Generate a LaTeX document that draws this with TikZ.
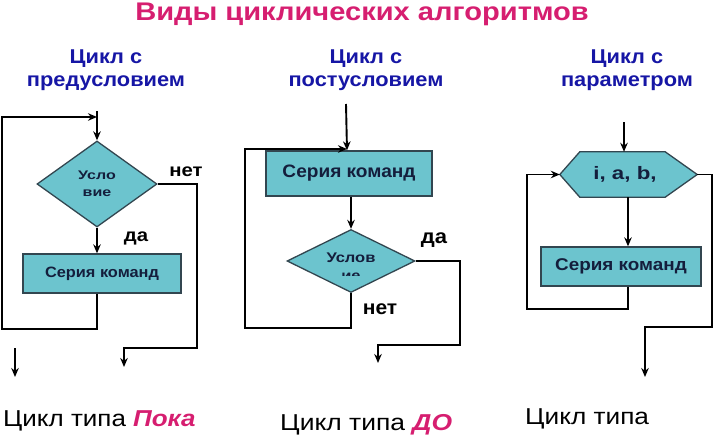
\documentclass[tikz,border=0pt]{standalone}
\usepackage{fontspec}
\setmainfont{Liberation Sans}
\usetikzlibrary{shapes.geometric,arrows.meta}
\definecolor{boxfill}{RGB}{108,196,206}
\definecolor{boxline}{RGB}{50,70,80}
\definecolor{titlepink}{RGB}{214,30,112}
\definecolor{subblue}{RGB}{22,22,165}
\definecolor{shapetext}{RGB}{20,30,60}
\newcommand{\hs}[2]{\scalebox{#1}[1]{#2}}
\tikzset{
  conn/.style={line width=1.9pt, draw=black},
  arr/.style={conn, -{Stealth[length=9pt,width=7.5pt]}},
  blockbox/.style={rectangle, draw=boxline, fill=boxfill, line width=1.3pt, inner sep=0pt, text=shapetext},
  dia/.style={diamond, draw=boxline, fill=boxfill, line width=1.3pt, inner sep=0pt, text=shapetext, align=center},
  lbl/.style={font=\bfseries\fontsize{18}{20}\selectfont, text=black, inner sep=0pt},
  sub/.style={font=\bfseries\fontsize{20}{23}\selectfont, text=subblue, align=center, inner sep=0pt},
  bot/.style={font=\fontsize{23}{26}\selectfont, anchor=west, inner sep=0pt},
}
\begin{document}
\begin{tikzpicture}[x=1pt,y=-1pt]
\useasboundingbox (0,0) rectangle (716,439);
% title
\node[font=\bfseries\fontsize{25.5}{28}\selectfont, text=titlepink, anchor=base, inner sep=0pt] (title) at (362,20.5) {\hs{1.14}{Виды циклических алгоритмов}};
% subtitles
\node[sub] (s1) at (106,70) {\hs{1.09}{Цикл с}\\\hs{1.09}{предусловием}};
\node[sub] (s2) at (366,70) {\hs{1.09}{Цикл с}\\\hs{1.09}{постусловием}};
\node[sub] (s3) at (627,70) {\hs{1.09}{Цикл с}\\\hs{1.09}{параметром}};

% ---------- left: pre-condition ----------
\node[dia, minimum width=120pt, minimum height=86pt, font=\bfseries\fontsize{12.5}{17}\selectfont] (d1) at (97,184) {\hs{1.28}{Усло}\\\hs{1.28}{вие}};
\node[blockbox, minimum width=158pt, minimum height=39pt, font=\bfseries\fontsize{15}{17}\selectfont] (b1) at (102,273.5) {\hs{1.09}{Серия команд}};
\coordinate (l1in) at (97,111);
\draw[arr] (l1in) -- (d1.north);
\draw[arr] (d1.south) -- (d1.south |- b1.north);
\node[lbl] (no1) at (186,172) {\hs{1.13}{нет}};
\node[lbl] (yes1) at (136,238) {\hs{1.13}{да}};
\coordinate (l1a) at (197,184);
\coordinate (l1b) at (197,348);
\coordinate (l1c) at (124,348);
\coordinate (l1d) at (124,367);
\draw[arr] (d1.east) -- (l1a) -- (l1b) -- (l1c) -- (l1d);
\coordinate (l1e) at (97,329);
\coordinate (l1f) at (2,329);
\coordinate (l1g) at (2,117);
\coordinate (l1h) at (97,117);
\draw[arr] (d1.south |- b1.south) -- (l1e) -- (l1f) -- (l1g) -- (l1h);
\coordinate (l1x) at (15,348);
\coordinate (l1y) at (15,377);
\draw[arr] (l1x) -- (l1y);

% ---------- middle: post-condition ----------
\node[blockbox, minimum width=166pt, minimum height=45pt, font=\bfseries\fontsize{18}{20}\selectfont] (b2) at (349,173.5) {\hs{1.06}{Серия команд}};
\node[dia, minimum width=128pt, minimum height=63pt, font=\bfseries\fontsize{14}{16}\selectfont] (d2) at (351,261) {};
\node[inner sep=0pt, text=shapetext, font=\bfseries\fontsize{14}{16}\selectfont, anchor=base] (d2t) at (351,262) {\hs{1.18}{Услов}};
\begin{scope}
  \clip (300,266) rectangle (400,275.5);
  \node[inner sep=0pt, text=shapetext, font=\bfseries\fontsize{14}{16}\selectfont, anchor=base] (d2u) at (351,280) {\hs{1.18}{ие}};
\end{scope}
\coordinate (m1in) at (346,104);
\draw[arr] (m1in) -- (b2.north -| 347,0);
\draw[arr] (b2.south -| d2.north) -- (d2.north);
\node[lbl, font=\bfseries\fontsize{20}{22}\selectfont] (yes2) at (434,240) {\hs{1.1}{да}};
\node[lbl, font=\bfseries\fontsize{20}{22}\selectfont] (no2) at (380,309) {\hs{1.05}{нет}};
\coordinate (m1a) at (460,261);
\coordinate (m1b) at (460,345);
\coordinate (m1c) at (378,345);
\coordinate (m1d) at (378,363);
\draw[arr] (d2.east) -- (m1a) -- (m1b) -- (m1c) -- (m1d);
\coordinate (m1e) at (351,328);
\coordinate (m1f) at (245,328);
\coordinate (m1g) at (245,149);
\coordinate (m1h) at (347,149);
\draw[arr] (d2.south) -- (m1e) -- (m1f) -- (m1g) -- (m1h);

% ---------- right: parameter ----------
\node[inner sep=0pt, minimum width=137pt, minimum height=45pt] (h) at (628.5,174.5) {};
\filldraw[fill=boxfill, draw=boxline, line width=1.3pt] (h.west) -- ([xshift=20pt]h.north west) -- ([xshift=-32pt]h.north east) -- (h.east) -- ([xshift=-32pt]h.south east) -- ([xshift=20pt]h.south west) -- cycle;
\node[inner sep=0pt, text=shapetext, font=\bfseries\fontsize{18}{20}\selectfont] (htext) at (625,174.5) {\hs{1.24}{i, a, b,}};
\node[blockbox, minimum width=160pt, minimum height=39pt, font=\bfseries\fontsize{17}{19}\selectfont] (b3) at (621,266.5) {\hs{1.11}{Серия команд}};
\coordinate (r1in) at (624,122);
\draw[arr] (r1in) -- (r1in |- h.north);
\draw[arr] (h.south -| 628,0) -- (628,0 |- b3.north);
\coordinate (r1a) at (628,309);
\coordinate (r1b) at (527,309);
\coordinate (r1c) at (527,174.5);
\draw[arr] (628,0 |- b3.south) -- (r1a) -- (r1b) -- (r1c) -- (h.west);
\coordinate (r1d) at (712,174.5);
\coordinate (r1e) at (712,327);
\coordinate (r1f) at (645,327);
\coordinate (r1g) at (645,377);
\draw[arr] (h.east) -- (r1d) -- (r1e) -- (r1f) -- (r1g);

% ---------- bottom captions ----------
\node[bot] (c1) at (3,421) {\hs{1.13}{Цикл типа \textcolor{titlepink}{\bfseries\itshape Пока}}};
\node[bot] (c2) at (280,425) {\hs{1.15}{Цикл типа \textcolor{titlepink}{\bfseries\itshape ДО}}};
\node[bot] (c3) at (525,419) {\hs{1.14}{Цикл типа}};
\end{tikzpicture}
\end{document}
